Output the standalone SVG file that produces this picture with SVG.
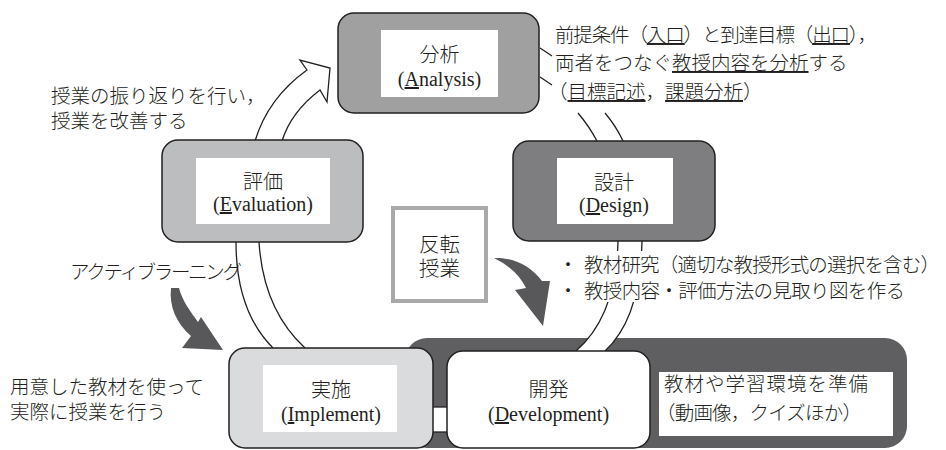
<svg xmlns="http://www.w3.org/2000/svg" width="946" height="450" viewBox="0 0 946 450">
<style>
.jp{font-family:"Liberation Sans","Noto Sans CJK JP",sans-serif;font-size:19.5px;fill:#231f20;font-weight:300}
.lbl{font-family:"Liberation Sans","Noto Sans CJK JP",sans-serif;font-size:20px;fill:#231f20;text-anchor:middle;font-weight:300}
.en{font-family:"Liberation Serif","Times New Roman",serif;font-size:20px;font-weight:400}
.box{stroke:#231f20;stroke-width:1.5}
.in{fill:#fff}
.ln{fill:none;stroke:#231f20;stroke-width:1.3}
.rib{fill:#fff;stroke:none}
.ar{fill:#58585a}
.u{text-decoration:underline}
</style>
<rect width="946" height="450" fill="#fff"/>
<g id="band"><rect x="405" y="338" width="502" height="110" rx="22" fill="#5f5f61"/></g>
<g id="connectors">
 <path class="ln" d="M578 113 Q589 126 597 141"/>
 <path class="ln" d="M605 113 Q616 126 623 141"/>
 <path class="rib" d="M618 241 C617 285 606 325 576 351 L605 351 C630 328 641 290 642 241 Z"/>
 <path class="ln" d="M618 241 C617 285 606 325 576 351"/>
 <path class="ln" d="M642 241 C641 290 630 328 605 351"/>
 <path class="ln" d="M236 242 C236 290 250 325 273 348"/>
 <path class="ln" d="M259 242 C262 290 280 325 305 348"/>
 <path d="M255 141 Q268 98 307 70 L300 60 L330 68 L327 102 L320 90 Q291 112 282 141" fill="#fff" stroke="#231f20" stroke-width="1.3"/>
 <rect x="432" y="407" width="16" height="25" fill="#fff" stroke="#231f20" stroke-width="1.3"/>
 <path class="ln" d="M540 48 L552 56 M540 77 L552 85"/>
 <path class="ar" d="M494 258 C512 257 530 265 542 281 L550 281 L543 326 L515 290 L526 288 C520 276 510 266 494 258 Z"/>
 <path class="ar" d="M171 288 C169 306 176 323 191 336 L182 348 L223 350 L201 317 L198 322 C190 311 182 300 179 288 Z"/>
</g>
<g id="analysis">
 <rect class="box" x="338" y="13" width="201" height="100" rx="16" fill="#a0a0a1"/>
 <rect class="in" x="381" y="30" width="117" height="67"/>
 <text class="lbl" x="439.5" y="62">分析<tspan class="en" x="439.5" dy="24">(<tspan class="u">A</tspan>nalysis)</tspan></text>
</g>
<g id="design">
 <rect class="box" x="513" y="141" width="202" height="100" rx="16" fill="#7e7e80"/>
 <rect class="in" x="557" y="158" width="116" height="66"/>
 <text class="lbl" x="614" y="190">設計<tspan class="en" x="614" dy="22">(<tspan class="u">D</tspan>esign)</tspan></text>
</g>
<g id="evaluation">
 <rect class="box" x="162" y="140" width="201" height="102" rx="16" fill="#bcbdbf"/>
 <rect class="in" x="196" y="158" width="134" height="66"/>
 <text class="lbl" x="263" y="189">評価<tspan class="en" x="263" dy="22">(<tspan class="u">E</tspan>valuation)</tspan></text>
</g>
<g id="implement">
 <rect class="box" x="229" y="348" width="204" height="100" rx="16" fill="#dadbdc"/>
 <rect class="in" x="263" y="365" width="134" height="67"/>
 <text class="lbl" x="331" y="397">実施<tspan class="en" x="331" dy="24">(<tspan class="u">I</tspan>mplement)</tspan></text>
</g>
<g id="development">
 <rect class="box" x="447" y="351" width="203" height="97" rx="16" fill="#fff"/>
 <text class="lbl" x="548.5" y="397">開発<tspan class="en" x="548.5" dy="24">(<tspan class="u">D</tspan>evelopment)</tspan></text>
</g>
<g id="flipped">
 <rect x="393" y="208" width="93" height="93" fill="#fff" stroke="#a9a9a9" stroke-width="4"/>
 <text class="lbl" x="439.5" y="252" style="font-size:20.5px">反転<tspan x="439.5" dy="24">授業</tspan></text>
</g>
<g id="notes">
 <text class="jp" x="555" y="42" textLength="322" lengthAdjust="spacing">前提条件（<tspan class="u">入口</tspan>）と到達目標（<tspan class="u">出口</tspan>），</text>
 <text class="jp" x="555" y="70">両者をつなぐ<tspan class="u">教授内容を分析</tspan>する</text>
 <text class="jp" x="548" y="99">（<tspan class="u">目標記述</tspan>，<tspan class="u">課題分析</tspan>）</text>
 <text class="jp" x="51" y="103">授業の振り返りを行い，<tspan x="51" dy="25">授業を改善する</tspan></text>
 <rect x="560" y="251" width="386" height="51" fill="#fff"/>
 <text class="jp" x="568" y="272" text-anchor="middle">・<tspan x="568" dy="26">・</tspan></text>
 <text class="jp" x="584" y="272"><tspan textLength="356" lengthAdjust="spacing">教材研究（適切な教授形式の選択を含む）</tspan><tspan x="584" dy="26" textLength="321" lengthAdjust="spacing">教授内容・評価方法の見取り図を作る</tspan></text>
 <text class="jp" x="70" y="279" textLength="172" lengthAdjust="spacing">アクティブラーニング</text>
 <text class="jp" x="10" y="394">用意した教材を使って<tspan x="10" dy="25">実際に授業を行う</tspan></text>
 <rect x="659" y="372" width="234" height="64" fill="#fff"/>
 <text class="jp" x="664" y="391"><tspan textLength="204" lengthAdjust="spacing">教材や学習環境を準備</tspan><tspan x="656" dy="29" textLength="206" lengthAdjust="spacing">（動画像，クイズほか）</tspan></text>
</g>
</svg>
